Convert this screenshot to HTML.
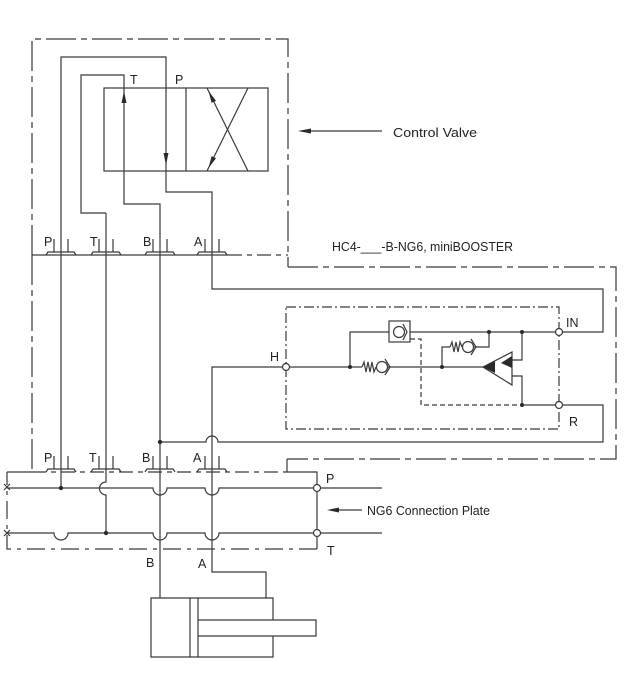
<!DOCTYPE html>
<html><head><meta charset="utf-8"><style>
html,body{margin:0;padding:0;background:#fff;}
svg{display:block;}
text{font-family:"Liberation Sans","DejaVu Sans",sans-serif;fill:#222;}
</style></head><body>
<svg width="640" height="681" viewBox="0 0 640 681" xmlns="http://www.w3.org/2000/svg">
<rect width="640" height="681" fill="#fff"/>
<g fill="none" stroke="#3a3a3a" stroke-width="1.2">
  <!-- upper control valve box (dash-dot) -->
  <path d="M32,255 V39 H288 V267" stroke-dasharray="30 5 6 5"/>
  <path d="M32,255 V472" stroke-dasharray="30 5 6 5"/>
  <path d="M32,255 H228"/>
  <path d="M228,255 H288" stroke-dasharray="14 5 5 5"/>
  <!-- miniBOOSTER outer box -->
  <path d="M288,267 H616 V459 H287" stroke-dasharray="30 5 6 5"/>
  <path d="M287,459 V472"/>
  <!-- connection plate -->
  <path d="M7,472 H32"/>
  <path d="M32,472 H287" stroke-dasharray="14 5 5 5"/>
  <path d="M287,472 H317 V549"/>
  <path d="M317,549 H7 V472" stroke-dasharray="18 6 4 6"/>
  <path d="M4,484 L10,490 M10,484 L4,490 M4,530 L10,536 M10,530 L4,536"/>

  <!-- valve body -->
  <rect x="104" y="88" width="164" height="83"/>
  <line x1="186" y1="88" x2="186" y2="171"/>
  <line x1="207" y1="88" x2="248" y2="171"/>
  <line x1="248" y1="88" x2="207" y2="171"/>

  <!-- P line -->
  <path d="M61,488 V57 H166 V192 H212 V289 H603 V332 H562"/>
  <!-- T line -->
  <path d="M106,213 V482 A6.5,6.5 0 0 0 106,495 V533"/>
  <path d="M106,213 H81 V75 H124 V204 H160 V598"/>
  <!-- H / A line -->
  <path d="M283,367 H212 V572 H266 V598"/>
  <!-- R return -->
  <path d="M562,405 H603 V442 H218 A6,6 0 0 0 206,442 H160"/>

  <!-- plate P line -->
  <path d="M7,488 H153 A7,7 0 0 0 167,488 H205 A7,7 0 0 0 219,488 H313.5"/>
  <path d="M320.5,488 H382"/>
  <!-- plate T line -->
  <path d="M7,533 H54 A7,7 0 0 0 68,533 H153 A7,7 0 0 0 167,533 H205 A7,7 0 0 0 219,533 H313.5"/>
  <path d="M320.5,533 H382"/>

  <!-- cylinder -->
  <path d="M273,620 V598 H151 V657 H273 V636"/>
  <line x1="190" y1="598" x2="190" y2="657"/>
  <line x1="198" y1="598" x2="198" y2="657"/>
  <path d="M198,620 H316 V636 H198"/>

  <!-- inner dash-dot box -->
  <rect x="286" y="307" width="273" height="122" stroke-dasharray="10 3 2 3"/>

  <!-- inner circuit -->
  <path d="M289,367 H362"/>
  <polyline points="362,367 364,362 366,372 368,362 370,372 372,362 374,372 376,367"/>
  <circle cx="382" cy="367" r="5.5"/>
  <polyline points="385,359 390,367 385,375"/>
  <path d="M388,367 H483"/>
  <path d="M350,367 V332 H389"/>
  <rect x="389" y="321" width="21" height="21"/>
  <circle cx="399" cy="332" r="5.5"/>
  <polyline points="403,324 407,332 403,340"/>
  <path d="M410,332 H556"/>
  <path d="M410,339 H421 V405 H522" stroke-dasharray="5 3"/>
  <path d="M442,367 V347 H450"/>
  <polyline points="450,347 452,342 454,352 456,342 458,352 460,342 462,347"/>
  <circle cx="468" cy="347" r="5.5"/>
  <polyline points="471,339 476,347 471,355"/>
  <path d="M474,347 H489 V332"/>
  <polygon points="483,367 512,352 512,385"/>
  <path d="M512,360 H522 V332 M512,376 H522 V405 H556"/>

  <!-- label arrows -->
  <line x1="305" y1="131" x2="382" y2="131"/>
  <line x1="334" y1="510" x2="362" y2="510"/>
</g>

<!-- ports upper (y=255) -->
<g fill="none" stroke="#3a3a3a" stroke-width="1.2">
  <path d="M46,255 L48,252 H74 L76,255 M54,252 V239 M68,252 V239"/>
  <path d="M91,255 L93,252 H119 L121,255 M99,252 V239 M113,252 V239"/>
  <path d="M145,255 L147,252 H173 L175,255 M153,252 V239 M167,252 V239"/>
  <path d="M197,255 L199,252 H225 L227,255 M205,252 V239 M219,252 V239"/>
  <!-- ports lower (y=472) -->
  <path d="M46,472 L48,469 H74 L76,472 M54,469 V456 M68,469 V456"/>
  <path d="M91,472 L93,469 H119 L121,472 M99,469 V456 M113,469 V456"/>
  <path d="M145,472 L147,469 H173 L175,472 M153,469 V456 M167,469 V456"/>
  <path d="M197,472 L199,469 H225 L227,472 M205,469 V456 M219,469 V456"/>
</g>

<!-- hollow port circles -->
<g fill="#fff" stroke="#3a3a3a" stroke-width="1.2">
  <circle cx="286" cy="367" r="3.5"/>
  <circle cx="559" cy="332" r="3.5"/>
  <circle cx="559" cy="405" r="3.5"/>
  <circle cx="317" cy="488" r="3.5"/>
  <circle cx="317" cy="533" r="3.5"/>
</g>

<!-- dots & arrowheads -->
<g fill="#2a2a2a" stroke="none">
  <circle cx="61" cy="488" r="2.2"/>
  <circle cx="106" cy="533" r="2.2"/>
  <circle cx="160" cy="442" r="2.2"/>
  <circle cx="350" cy="367" r="2"/>
  <circle cx="442" cy="367" r="2"/>
  <circle cx="489" cy="332" r="2"/>
  <circle cx="522" cy="332" r="2"/>
  <circle cx="522" cy="405" r="2"/>
  <polygon points="124,91 121.5,103 126.5,103"/>
  <polygon points="166,165 163.5,153 168.5,153"/>
  <polygon points="208.5,91 216,100.7 211.6,102.9"/>
  <polygon points="208.5,168 216,158.3 211.6,156.1"/>
  <polygon points="483,367 495,361 495,373"/>
  <polygon points="501,363 512,356 512,368"/>
  <polygon points="298,131 311,128.5 311,133.5"/>
  <polygon points="327,510 339,507.5 339,512.5"/>
</g>

<!-- labels -->
<g font-size="12.5">
  <text x="130" y="84">T</text>
  <text x="175" y="84">P</text>
  <text x="44" y="246">P</text>
  <text x="90" y="246">T</text>
  <text x="143" y="246">B</text>
  <text x="194" y="246">A</text>
  <text x="44" y="462">P</text>
  <text x="89" y="462">T</text>
  <text x="142" y="462">B</text>
  <text x="193" y="462">A</text>
  <text x="270" y="361">H</text>
  <text x="566" y="327">IN</text>
  <text x="569" y="426">R</text>
  <text x="326" y="483">P</text>
  <text x="327" y="555">T</text>
  <text x="146" y="567">B</text>
  <text x="198" y="568">A</text>
</g>
<g font-size="12.5">
  <text x="393" y="137" textLength="84" lengthAdjust="spacingAndGlyphs">Control Valve</text>
  <text x="332" y="251" textLength="181" lengthAdjust="spacingAndGlyphs">HC4-___-B-NG6, miniBOOSTER</text>
  <text x="367" y="515" textLength="123" lengthAdjust="spacingAndGlyphs">NG6 Connection Plate</text>
</g>
</svg>
</body></html>
